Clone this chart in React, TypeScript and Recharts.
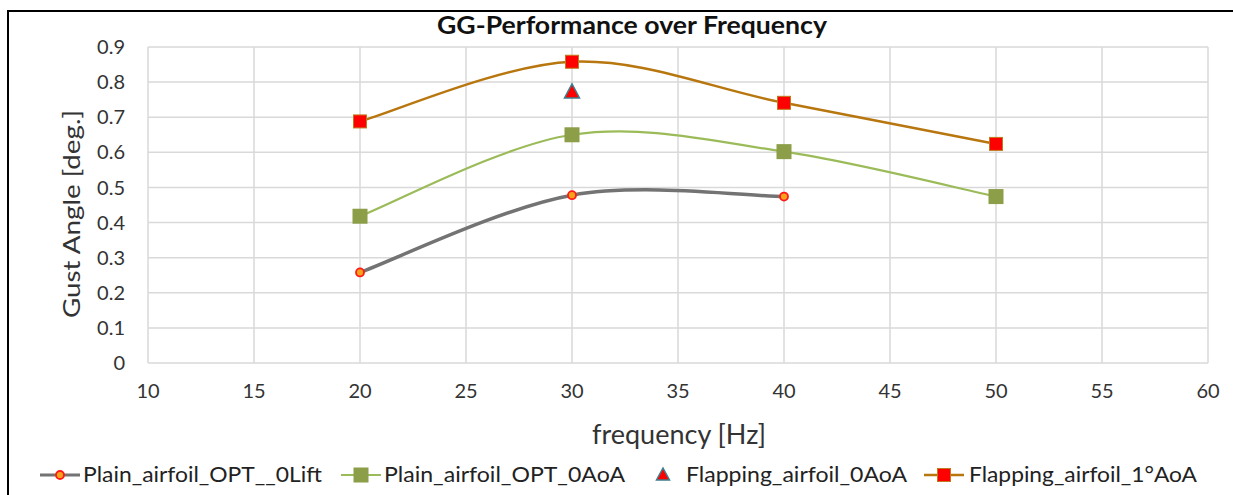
import React from "react";
import { ComposedChart, Line, XAxis, YAxis, CartesianGrid } from "recharts";

// ---- data ----
const xTicks = [10, 15, 20, 25, 30, 35, 40, 45, 50, 55, 60];
const yTicks = [0, 0.1, 0.2, 0.3, 0.4, 0.5, 0.6, 0.7, 0.8, 0.9];

const liftFreq = [20, 30, 40];
const liftVals = [0.258, 0.478, 0.474];

const plainFreq = [20, 30, 40, 50];
const plainVals = [0.418, 0.65, 0.602, 0.474];

const flap0Freq = [30];
const flap0Vals = [0.772];

const flap1Freq = [20, 30, 40, 50];
const flap1Vals = [0.688, 0.858, 0.741, 0.624];

const seriesNames = [
  "Plain_airfoil_OPT__0Lift",
  "Plain_airfoil_OPT_0AoA",
  "Flapping_airfoil_0AoA",
  "Flapping_airfoil_1°AoA",
];

const titleText = "GG-Performance over Frequency";
const xLabelText = "frequency [Hz]";
const yLabelText = "Gust Angle [deg.]";

const toRows = (xs: number[], ys: number[]) => xs.map((x, i) => ({ x, y: ys[i] }));
const liftData = toRows(liftFreq, liftVals);
const plainData = toRows(plainFreq, plainVals);
const flap0Data = toRows(flap0Freq, flap0Vals);
const flap1Data = toRows(flap1Freq, flap1Vals);

const FONT = "Lato, 'Open Sans', sans-serif";

// Excel-like smoothed curve (Catmull-Rom style Bezier)
const excelCurve = (context: any) => {
  let pts: number[][] = [];
  return {
    areaStart() {},
    areaEnd() {},
    lineStart() {
      pts = [];
    },
    point(x: number, y: number) {
      pts.push([+x, +y]);
    },
    lineEnd() {
      const n = pts.length;
      if (!n) return;
      context.moveTo(pts[0][0], pts[0][1]);
      for (let i = 0; i < n - 1; i++) {
        const p0 = pts[Math.max(i - 1, 0)];
        const p1 = pts[i];
        const p2 = pts[i + 1];
        const p3 = pts[Math.min(i + 2, n - 1)];
        const c1x = p1[0] + (p2[0] - p0[0]) / 6;
        const c1y = p1[1] + (p2[1] - p0[1]) / 6;
        const c2x = p2[0] - (p3[0] - p1[0]) / 6;
        const c2y = p2[1] - (p3[1] - p1[1]) / 6;
        context.bezierCurveTo(c1x, c1y, c2x, c2y, p2[0], p2[1]);
      }
    },
  };
};

const CircleDot = (p: any) => (
  <circle key={p.index} cx={p.cx} cy={p.cy} r={4} fill="#F7A21B" stroke="#FF1A1A" strokeWidth={1.8} />
);
const GreenSquare = (p: any) => (
  <rect key={p.index} x={p.cx - 7.5} y={p.cy - 7.5} width={15} height={15} fill="#8C9E48" />
);
const RedSquare = (p: any) => (
  <rect key={p.index} x={p.cx - 6.5} y={p.cy - 6.5} width={13} height={13} fill="#FF0000" stroke="#C07A1C" strokeWidth={1} />
);
const Triangle = (p: any) => (
  <polygon
    key={p.index}
    points={`${p.cx},${p.cy - 8} ${p.cx + 7.5},${p.cy + 6} ${p.cx - 7.5},${p.cy + 6}`}
    fill="#FF0000"
    stroke="#3F7E8E"
    strokeWidth={1.5}
  />
);

const Overlay = () => {
  const cy = 475;
  const ts = { fontSize: 21, fontFamily: FONT, fill: "#222", lengthAdjust: "spacingAndGlyphs" } as any;
  return (
    <svg width={1233} height={495} style={{ position: "absolute", left: 0, top: 0, pointerEvents: "none" }}>
      <text x={632} y={34} textAnchor="middle" fontSize={25} fontWeight={700} fontFamily={FONT} fill="#111" textLength={390} lengthAdjust="spacingAndGlyphs">{titleText}</text>
      <text x={679} y={444} textAnchor="middle" fontSize={27} fontFamily={FONT} fill="#333">{xLabelText}</text>
      <text x={0} y={0} transform="translate(80,214) rotate(-90)" textAnchor="middle" fontSize={24} fontFamily={FONT} fill="#333" textLength={208} lengthAdjust="spacingAndGlyphs">{yLabelText}</text>
      {/* item 1 */}
      <line x1={40} y1={cy} x2={80} y2={cy} stroke="#737373" strokeWidth={3} />
      <circle cx={60} cy={cy} r={4} fill="#F7A21B" stroke="#FF1A1A" strokeWidth={1.8} />
      <text x={83} y={cy + 7} textLength={239} {...ts}>{seriesNames[0]}</text>
      {/* item 2 */}
      <line x1={341} y1={cy} x2={381} y2={cy} stroke="#9BBB59" strokeWidth={2} />
      <rect x={353.5} y={cy - 7.5} width={15} height={15} fill="#8C9E48" />
      <text x={384} y={cy + 7} textLength={241} {...ts}>{seriesNames[1]}</text>
      {/* item 3 */}
      <polygon points={`663,${cy - 7} 669.5,${cy + 5} 656.5,${cy + 5}`} fill="#FF0000" stroke="#3F7E8E" strokeWidth={1.5} />
      <text x={686} y={cy + 7} textLength={221} {...ts}>{seriesNames[2]}</text>
      {/* item 4 */}
      <line x1={924} y1={cy} x2={964} y2={cy} stroke="#B8760F" strokeWidth={2.5} />
      <rect x={937.5} y={cy - 6.5} width={13} height={13} fill="#FF0000" stroke="#C07A1C" strokeWidth={1} />
      <text x={969} y={cy + 7} textLength={228} {...ts}>{seriesNames[3]}</text>
    </svg>
  );
};

export default function App() {
  return (
    <div style={{ position: "absolute", left: 0, top: 0, width: 1233, height: 495, background: "#fff", fontFamily: FONT }}>
      {/* frame */}
      <div style={{ position: "absolute", left: 7, top: 10, width: 1226, height: 485, borderLeft: "2.5px solid #000", borderTop: "2.5px solid #000" }} />
      <div style={{ position: "absolute", left: 0, top: 0 }}>
        <ComposedChart width={1233} height={495} margin={{ top: 47, right: 25, bottom: 92, left: 88 }}>
          <CartesianGrid stroke="#D9D9D9" strokeWidth={1.5} />
          <XAxis
            type="number"
            dataKey="x"
            domain={[10, 60]}
            ticks={xTicks}
            allowDuplicatedCategory={false}
            axisLine={false}
            tickLine={false}
            tickSize={0}
            tickMargin={21}
            height={40}
            tick={{ fontSize: 20, fill: "#333", fontFamily: FONT }}
          />
          <YAxis
            type="number"
            domain={[0, 0.9]}
            ticks={yTicks}
            axisLine={false}
            tickLine={false}
            tickSize={0}
            tickMargin={23}
            width={60}
            tick={{ fontSize: 20, fill: "#333", fontFamily: FONT }}
          />
          <Line data={liftData} dataKey="y" type={excelCurve as any} stroke="#737373" strokeWidth={3.5} dot={CircleDot} activeDot={false} isAnimationActive={false} />
          <Line data={plainData} dataKey="y" type={excelCurve as any} stroke="#9BBB59" strokeWidth={2.2} dot={GreenSquare} activeDot={false} isAnimationActive={false} />
          <Line data={flap1Data} dataKey="y" type={excelCurve as any} stroke="#B8760F" strokeWidth={2.5} dot={RedSquare} activeDot={false} isAnimationActive={false} />
          <Line data={flap0Data} dataKey="y" stroke="none" dot={Triangle} activeDot={false} isAnimationActive={false} />
        </ComposedChart>
      </div>
      <Overlay />
    </div>
  );
}
